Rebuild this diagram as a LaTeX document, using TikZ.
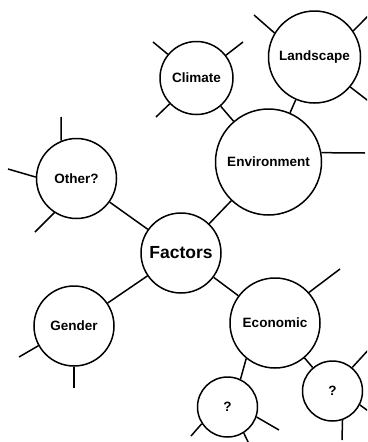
\documentclass[tikz,border=0pt]{standalone}
\usepackage{fontspec}
\setmainfont{Liberation Sans}
\begin{document}
\begin{tikzpicture}[x=1pt,y=-1pt,
  bub/.style={draw, circle, line width=1.5pt, inner sep=0pt, font=\fontsize{13.5}{16}\selectfont\bfseries},
  link/.style={line width=1.5pt},
  every node/.style={text=black}]
\useasboundingbox (0,0) rectangle (367,442);
\clip (0,0) rectangle (367,442);
% bubbles
\node[bub, minimum size=92pt]  (land)  at (314.5,57)  {Landscape};
\node[bub, minimum size=73pt]  (clim)  at (196.5,78)  {Climate};
\node[bub, minimum size=106pt] (env)   at (268.5,162) {Environment};
\node[bub, minimum size=80pt]  (other) at (76.5,178.5){Other?};
\node[bub, minimum size=80pt, font=\fontsize{17.5}{20}\selectfont\bfseries] (fac) at (181,253) {Factors};
\node[bub, minimum size=80pt]  (gen)   at (74,326)    {Gender};
\node[bub, minimum size=90pt]  (eco)   at (275,323)   {Economic};
\node[bub, minimum size=60pt]  (q1)    at (227.5,407) {?};
\node[bub, minimum size=60pt]  (q2)    at (332.5,391) {?};
% connectors
\draw[link] (fac) -- (other);
\draw[link] (fac) -- (env);
\draw[link] (fac) -- (gen);
\draw[link] (fac) -- (eco);
\draw[link] (env) -- (clim);
\draw[link] (env) -- (land);
\draw[link] (eco.231) -- (q1.65);
\draw[link] (eco) -- (q2);
% free ends of stubs
\coordinate (c1) at (153,42);
\coordinate (c2) at (243,42);
\coordinate (c3) at (156,117);
\coordinate (l1) at (254,15);
\coordinate (l2) at (371,13);
\coordinate (l3) at (371,103);
\coordinate (e1) at (365,153);
\coordinate (o1) at (61,117);
\coordinate (o2) at (8,169);
\coordinate (o3) at (35,232);
\coordinate (g1) at (19,357);
\coordinate (g2) at (74,388);
\coordinate (k1) at (340,269);
\coordinate (a1) at (191,436);
\coordinate (a2) at (279,430);
\coordinate (a3) at (250,446);
\coordinate (b1) at (371,347);
\coordinate (b2) at (371,413);
\coordinate (b3) at (342,440);
% stubs
\draw[link] (clim) -- (c1);
\draw[link] (clim) -- (c2);
\draw[link] (clim) -- (c3);
\draw[link] (land.149) -- (l1);
\draw[link] (land.34) -- (l2);
\draw[link] (land.320) -- (l3);
\draw[link] (env.10) -- (e1);
\draw[link] (other.112) -- (o1);
\draw[link] (other.178) -- (o2);
\draw[link] (other.237) -- (o3);
\draw[link] (gen.209) -- (g1);
\draw[link] (gen.270) -- (g2);
\draw[link] (eco.42) -- (k1);
\draw[link] (q1.213) -- (a1);
\draw[link] (q1.341) -- (a2);
\draw[link] (q1.302) -- (a3);
\draw[link] (q2.50) -- (b1);
\draw[link] (q2.333) -- (b2);
\draw[link] (q2.289) -- (b3);
\end{tikzpicture}
\end{document}
